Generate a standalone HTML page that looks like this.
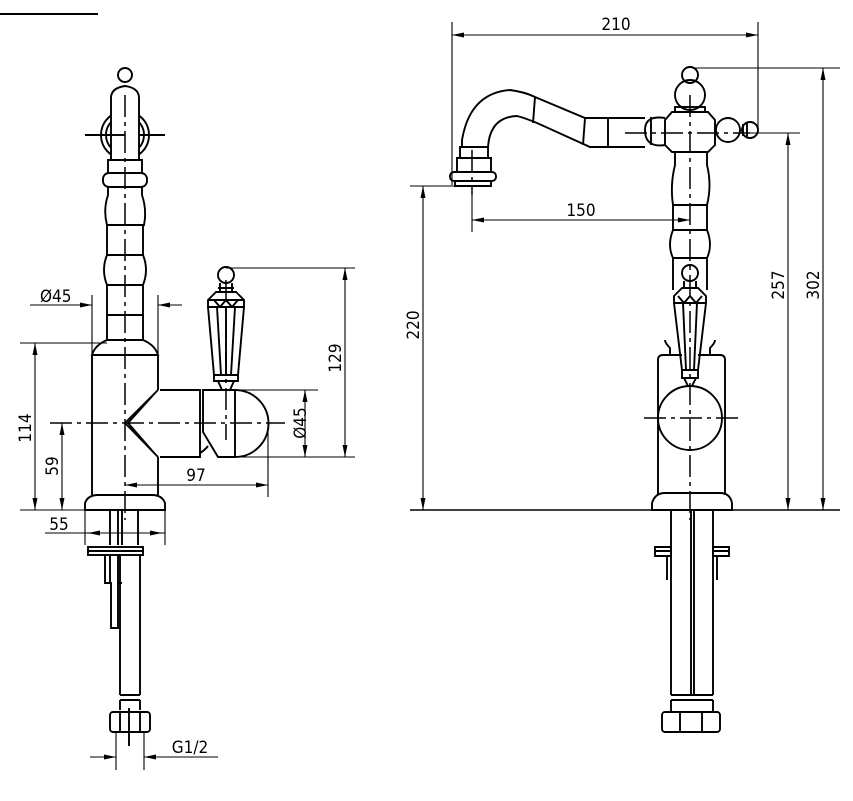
<!DOCTYPE html>
<html><head><meta charset="utf-8"><style>
html,body{margin:0;padding:0;background:#fff}
svg{display:block}
text{font-family:"DejaVu Sans Condensed","Liberation Sans",sans-serif;font-size:17px;fill:#000}
</style></head><body>
<svg width="853" height="801" viewBox="0 0 853 801" xmlns="http://www.w3.org/2000/svg">
<defs>
<marker id="a" markerWidth="12" markerHeight="6" refX="12" refY="3" orient="auto" markerUnits="userSpaceOnUse"><path d="M0,0.5 L12,3 L0,5.5z" fill="#000"/></marker>
</defs>
<g fill="none" stroke="#000" stroke-width="1.9">
<line x1="0" y1="14" x2="98" y2="14"/>

<!-- LEFT VIEW -->
<circle cx="125" cy="135" r="24"/>
<circle cx="125" cy="135" r="19"/>
<line x1="85" y1="135" x2="165" y2="135"/>
<circle cx="125" cy="75" r="7"/>
<path d="M111,160 L111,98 Q111,88 125,86 Q139,88 139,98 L139,160" fill="#fff"/>
<line x1="125" y1="135" x2="111" y2="135"/>
<path d="M108,160 L142,160 L142,173 L108,173z"/>
<rect x="103" y="173" width="44" height="14" rx="6"/>
<path d="M108,187 L142,187 L142,195 Q147,210 144,225 L107,225 Q103,210 108,195z"/>
<path d="M107,225 L143,225 L143,255 L107,255z"/>
<path d="M107,255 Q101,270 107,285 L143,285 Q149,270 143,255"/>
<path d="M107,285 L143,285 L143,315 L107,315z"/>
<path d="M107,315 L107,340 L143,340 L143,315"/>
<path d="M107,340 Q95,345 92,355 L158,355 Q155,345 143,340"/>
<path d="M92,355 L92,495 M158,355 L158,390 M158,457 L158,495"/>
<path d="M85,510 L85,503 Q88,495 98,495 L152,495 Q162,495 165,503 L165,510z"/>
<path d="M160,390 L200,390 L200,457 L160,457 M158,390 L125,423 L158,457 M155,393 L128,423 L155,454"/>
<path d="M203,390 L235,390 A33,33 0 0 1 235,457 L218,457 L203,432z"/>
<path d="M200,453 Q205,450 208,446"/>
<line x1="235" y1="390" x2="235" y2="457"/>
<!-- lever -->
<circle cx="226" cy="275" r="8"/>
<path d="M220,283 L220,292 L232,292 L232,283 M218,288 L234,288"/>
<path d="M216,292 L208,300 L208,307 L244,307 L244,300 L236,292z"/>
<path d="M208,300 L244,300 M208,307 L214,375 L238,375 L244,307 M217,307 L221,375 M226,307 L226,375 M235,307 L231,375"/>
<path d="M214,300 L220,307 L226,300 L232,307 L238,300"/>
<path d="M214,375 L214,381 L238,381 L238,375 M218,381 L222,390 M234,381 L230,390"/>
<!-- under deck left -->
<path d="M110,510 L110,545 M138,510 L138,545 M118,510 L118,545 M122,510 L122,545"/>
<rect x="88" y="547" width="55" height="4"/>
<rect x="88" y="551" width="55" height="4"/>
<path d="M105,555 L105,583 L111,583 L111,628 L118,628 L118,583 L122,583 M110,583 L110,555 M118,555 L118,583"/>
<path d="M120,555 L120,695 M140,555 L140,695 M120,695 L140,695 M120,700 L140,700 M120,700 L120,710 M140,700 L140,710"/>
<rect x="110" y="712" width="40" height="20" rx="3"/>
<line x1="120" y1="712" x2="120" y2="732"/><line x1="140" y1="712" x2="140" y2="732"/>
<line x1="129" y1="708" x2="129" y2="746"/>

<!-- RIGHT VIEW -->
<circle cx="690" cy="75" r="8"/>
<circle cx="690" cy="95" r="15"/>
<rect x="675" y="107" width="30" height="5"/>
<path d="M672,112 L708,112 L715,120 L715,145 L708,152 L672,152 L665,145 L665,120z"/>
<path d="M665,118 Q645,115 645,130 Q645,148 665,145 M651,117 L651,145"/>
<circle cx="728" cy="130" r="12"/>
<circle cx="750" cy="130" r="8"/>
<path d="M743,124 L743,136 M747,122 L747,138"/>
<path d="M608,118 L645,118 M608,147 L645,147 M608,118 L608,147"/>
<path d="M608,118 L585,118 L535,97 Q525,92 510,90 Q470,93 462,140 L462,147"/>
<path d="M608,147 L590,147 L537,123 Q525,118 517,116 Q490,117 488,147"/>
<path d="M535,97 L533,123 M585,118 L583,145"/>
<path d="M460,147 L488,147 L488,158 L460,158z"/>
<path d="M457,158 L491,158 L491,172 L457,172z"/>
<rect x="450" y="172" width="46" height="9" rx="4"/>
<path d="M455,181 L491,181 L491,186 L455,186z"/>
<path d="M675,152 L675,165 Q670,185 673,205 L707,205 Q712,185 707,165 L707,152"/>
<path d="M673,205 L673,230 L707,230 L707,205 M673,230 Q667,245 673,258 L707,258 Q713,245 707,230 M673,258 L673,290 M707,258 L707,290"/>
<circle cx="690" cy="273" r="8"/>
<path d="M684,281 L684,288 L696,288 L696,281"/>
<path d="M682,288 L674,296 L674,303 L706,303 L706,296 L698,288z"/>
<path d="M674,303 L682,370 L698,370 L706,303 M683,303 L686,370 M697,303 L694,370"/>
<path d="M678,296 L684,303 L690,296 L696,303 L702,296"/>
<path d="M682,370 L682,378 L698,378 L698,370 M684,378 L688,386 M696,378 L692,386"/>
<path d="M670,355 L670,348 Q665,343 665,340 M710,355 L710,348 Q715,343 715,340"/>
<path d="M658,495 L658,360 Q658,355 663,355 L682,355 M698,355 L720,355 Q725,355 725,360 L725,495"/>
<circle cx="690" cy="418" r="32"/>
<path d="M652,510 L652,503 Q655,493 665,493 L720,493 Q730,493 732,503 L732,510z"/>
<path d="M671,510 L671,695 M691,510 L691,695 M694,510 L694,695 M713,510 L713,695 M671,695 L713,695 M671,700 L713,700 M671,700 L671,712 M713,700 L713,712"/>
<rect x="662" y="712" width="58" height="20" rx="3"/>
<line x1="680" y1="712" x2="680" y2="732"/><line x1="702" y1="712" x2="702" y2="732"/>
<path d="M655,547 L671,547 L671,556 L655,556z M655,551 L671,551 M713,547 L729,547 L729,556 L713,556z M713,551 L729,551"/>
<path d="M667,556 L667,580 M717,556 L717,580"/>
</g>

<!-- centerlines -->
<g fill="none" stroke="#000" stroke-width="1.5" stroke-dasharray="22,5,4,5">
<line x1="125" y1="95" x2="125" y2="520"/>
<line x1="50" y1="423" x2="285" y2="423"/>
<line x1="226" y1="280" x2="226" y2="440"/>
<line x1="690" y1="95" x2="690" y2="520"/>
<line x1="625" y1="133" x2="750" y2="133"/>
<line x1="644" y1="418" x2="740" y2="418"/>
<line x1="472" y1="150" x2="472" y2="195"/>
</g>

<!-- dimensions -->
<g fill="none" stroke="#000" stroke-width="1.1">
<line x1="92" y1="295" x2="92" y2="355"/><line x1="158" y1="295" x2="158" y2="355"/>
<line x1="30" y1="305" x2="92" y2="305" />
<line x1="60" y1="305" x2="92" y2="305" marker-end="url(#a)"/>
<line x1="182" y1="305" x2="158" y2="305" marker-end="url(#a)"/>
<line x1="20" y1="343" x2="107" y2="343"/><line x1="20" y1="510" x2="85" y2="510"/>
<line x1="35" y1="425" x2="35" y2="343" marker-end="url(#a)"/><line x1="35" y1="425" x2="35" y2="510" marker-end="url(#a)"/>
<line x1="62" y1="465" x2="62" y2="423" marker-end="url(#a)"/><line x1="62" y1="465" x2="62" y2="510" marker-end="url(#a)"/>
<line x1="226" y1="268" x2="355" y2="268"/><line x1="235" y1="457" x2="355" y2="457"/>
<line x1="345" y1="360" x2="345" y2="268" marker-end="url(#a)"/><line x1="345" y1="360" x2="345" y2="457" marker-end="url(#a)"/>
<line x1="235" y1="390" x2="318" y2="390"/>
<line x1="305" y1="423" x2="305" y2="390" marker-end="url(#a)"/><line x1="305" y1="423" x2="305" y2="457" marker-end="url(#a)"/>
<line x1="268" y1="423" x2="268" y2="497"/>
<line x1="195" y1="485" x2="125" y2="485" marker-end="url(#a)"/><line x1="195" y1="485" x2="268" y2="485" marker-end="url(#a)"/>
<line x1="85" y1="510" x2="85" y2="545"/><line x1="165" y1="510" x2="165" y2="545"/>
<line x1="45" y1="533" x2="165" y2="533"/>
<line x1="100" y1="533" x2="88" y2="533" marker-end="url(#a)"/>
<line x1="150" y1="533" x2="162" y2="533" marker-end="url(#a)"/>
<line x1="116" y1="732" x2="116" y2="770"/><line x1="144" y1="732" x2="144" y2="770"/>
<line x1="90" y1="757" x2="116" y2="757" marker-end="url(#a)"/>
<line x1="218" y1="757" x2="144" y2="757" marker-end="url(#a)"/>

<line x1="452" y1="22" x2="452" y2="185"/><line x1="758" y1="22" x2="758" y2="133"/>
<line x1="605" y1="35" x2="452" y2="35" marker-end="url(#a)"/><line x1="605" y1="35" x2="758" y2="35" marker-end="url(#a)"/>
<line x1="472" y1="195" x2="472" y2="232"/>
<line x1="580" y1="220" x2="472" y2="220" marker-end="url(#a)"/><line x1="580" y1="220" x2="690" y2="220" marker-end="url(#a)"/>
<line x1="410" y1="186" x2="462" y2="186"/>
<line x1="423" y1="340" x2="423" y2="186" marker-end="url(#a)"/><line x1="423" y1="340" x2="423" y2="510" marker-end="url(#a)"/>
<line x1="748" y1="133" x2="800" y2="133"/>
<line x1="788" y1="300" x2="788" y2="133" marker-end="url(#a)"/><line x1="788" y1="300" x2="788" y2="510" marker-end="url(#a)"/>
<line x1="692" y1="68" x2="840" y2="68"/>
<line x1="823" y1="300" x2="823" y2="68" marker-end="url(#a)"/><line x1="823" y1="300" x2="823" y2="510" marker-end="url(#a)"/>
<line x1="410" y1="510" x2="840" y2="510" stroke-width="1.5"/>
</g>

<g>
<text x="40" y="302">Ø45</text>
<text transform="translate(31,428) rotate(-90)" text-anchor="middle">114</text>
<text transform="translate(58,466) rotate(-90)" text-anchor="middle">59</text>
<text transform="translate(341,358) rotate(-90)" text-anchor="middle">129</text>
<text transform="translate(306,423) rotate(-90)" text-anchor="middle">Ø45</text>
<text x="196" y="481" text-anchor="middle">97</text>
<text x="59" y="530" text-anchor="middle">55</text>
<text x="190" y="753" text-anchor="middle">G1/2</text>
<text x="616" y="30" text-anchor="middle">210</text>
<text x="581" y="216" text-anchor="middle">150</text>
<text transform="translate(419,325) rotate(-90)" text-anchor="middle">220</text>
<text transform="translate(784,285) rotate(-90)" text-anchor="middle">257</text>
<text transform="translate(819,285) rotate(-90)" text-anchor="middle">302</text>
</g>
</svg>
</body></html>
